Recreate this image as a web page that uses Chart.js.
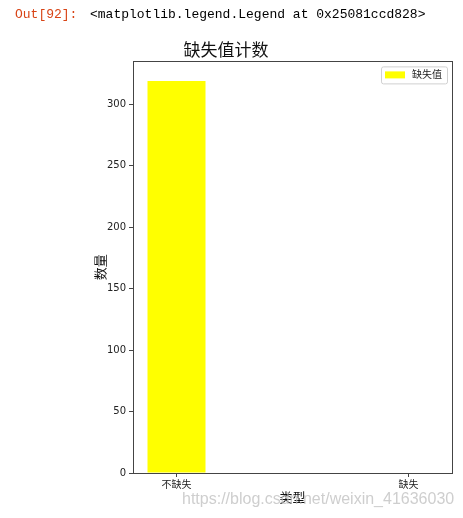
<!DOCTYPE html>
<html>
<head>
<meta charset="utf-8">
<script src="https://cdn.jsdelivr.net/npm/chart.js@4/dist/chart.umd.min.js"></script>
<style>
  body { margin: 0; background: #fff; }
  #wrap { position: relative; width: 463px; height: 518px; }
  .out { position: absolute; top: 7px; font: 13px "Liberation Mono", "DejaVu Sans Mono", monospace; white-space: pre; color: #000; }
  #mark { position: absolute; left: 182px; top: 490px; font: 16px "Liberation Sans", Arial, sans-serif; color: rgba(190,190,190,0.75); white-space: pre; }
</style>
</head>
<body>
<div id="wrap">
  <canvas id="missChart" width="463" height="518"></canvas>
  <div class="out" style="left:15px;color:#d84315">Out[92]:</div>
  <div class="out" style="left:90px">&lt;matplotlib.legend.Legend at 0x25081ccd828&gt;</div>
  <div id="mark">https://blog.csdn.net/weixin_41636030</div>
</div>
<script>
// data
var categories = ['不缺失', '缺失'];
var counts = [319, 0];
var seriesName = '缺失值';
var yTicks = [0, 50, 100, 150, 200, 250, 300];

var zh = '"DejaVu Sans", "Noto Sans CJK SC", sans-serif';

// axes box on all four sides, like matplotlib spines
var frame = {
  id: 'frame',
  afterDraw: function(chart) {
    var a = chart.chartArea, c = chart.ctx;
    c.save();
    c.strokeStyle = '#444';
    c.lineWidth = 1;
    c.strokeRect(Math.round(a.left) + 0.5, Math.round(a.top) + 0.5, Math.round(a.right - a.left), Math.round(a.bottom - a.top));
    c.restore();
  }
};

// legend drawn inside the plot, top right
var innerLegend = {
  id: 'innerLegend',
  afterDraw: function(chart) {
    var a = chart.chartArea, c = chart.ctx;
    var ds = chart.data.datasets[0];
    c.save();
    c.font = '10px ' + zh;
    var tw = c.measureText(ds.label).width;
    var w = 4 + 20 + 7 + tw + 5, h = 17;
    var x = a.right - 5 - w, y = a.top + 5;
    c.fillStyle = 'rgba(255,255,255,0.8)';
    c.strokeStyle = '#d0d0d0';
    c.lineWidth = 1;
    c.beginPath();
    c.roundRect(x + 0.5, y + 0.5, w, h, 2);
    c.fill();
    c.stroke();
    c.fillStyle = ds.backgroundColor;
    c.fillRect(x + 4, y + 5, 20, 7);
    c.fillStyle = '#222';
    c.textBaseline = 'middle';
    c.fillText(ds.label, x + 4 + 20 + 7, y + h / 2 + 1);
    c.restore();
  }
};

var chartdata = {
  datasets: [{
    label: seriesName,
    backgroundColor: '#ffff00',
    data: categories.map(function(c, i) { return { x: i, y: counts[i] }; }),
    categoryPercentage: 1,
    barPercentage: 0.25
  }]
};

var ctx = document.getElementById('missChart');
var barGraph = new Chart(ctx, {
  type: 'bar',
  data: chartdata,
  plugins: [frame, innerLegend],
  options: {
    responsive: false,
    animation: false,
    layout: { padding: { left: 0, right: 11, top: 0, bottom: 0 } },
    plugins: {
      legend: { display: false },
      tooltip: { enabled: false },
      title: {
        display: true,
        text: '缺失值计数',
        color: '#111',
        font: { family: zh, size: 17, weight: 'normal' },
        padding: { top: 41, bottom: 0 }
      }
    },
    scales: {
      x: {
        type: 'linear',
        min: -0.1875,
        max: 1.1875,
        offset: false,
        afterBuildTicks: function(s) { s.ticks = categories.map(function(c, i) { return { value: i }; }); },
        afterFit: function(s) { s.height = 45; },
        ticks: {
          autoSkip: false,
          maxRotation: 0,
          padding: 2,
          color: '#222',
          font: { family: zh, size: 10 },
          callback: function(v) { return categories[v]; }
        },
        grid: { offset: false, drawOnChartArea: false, drawTicks: true, tickLength: 4, color: '#444' },
        border: { color: '#444' },
        title: {
          display: true,
          text: '类型',
          color: '#111',
          font: { family: zh, size: 13 },
          padding: { top: 0, bottom: 12 }
        }
      },
      y: {
        min: 0,
        max: 335,
        afterBuildTicks: function(s) { s.ticks = yTicks.map(function(v) { return { value: v }; }); },
        afterFit: function(s) { s.width = 133; },
        ticks: {
          padding: 3,
          color: '#222',
          font: { family: zh, size: 10 }
        },
        grid: { drawOnChartArea: false, drawTicks: true, tickLength: 4, color: '#444' },
        border: { color: '#444' },
        title: {
          display: true,
          text: '数量',
          color: '#111',
          font: { family: zh, size: 13 },
          padding: { top: 94, bottom: 0 }
        }
      }
    }
  }
});
</script>
</body>
</html>
